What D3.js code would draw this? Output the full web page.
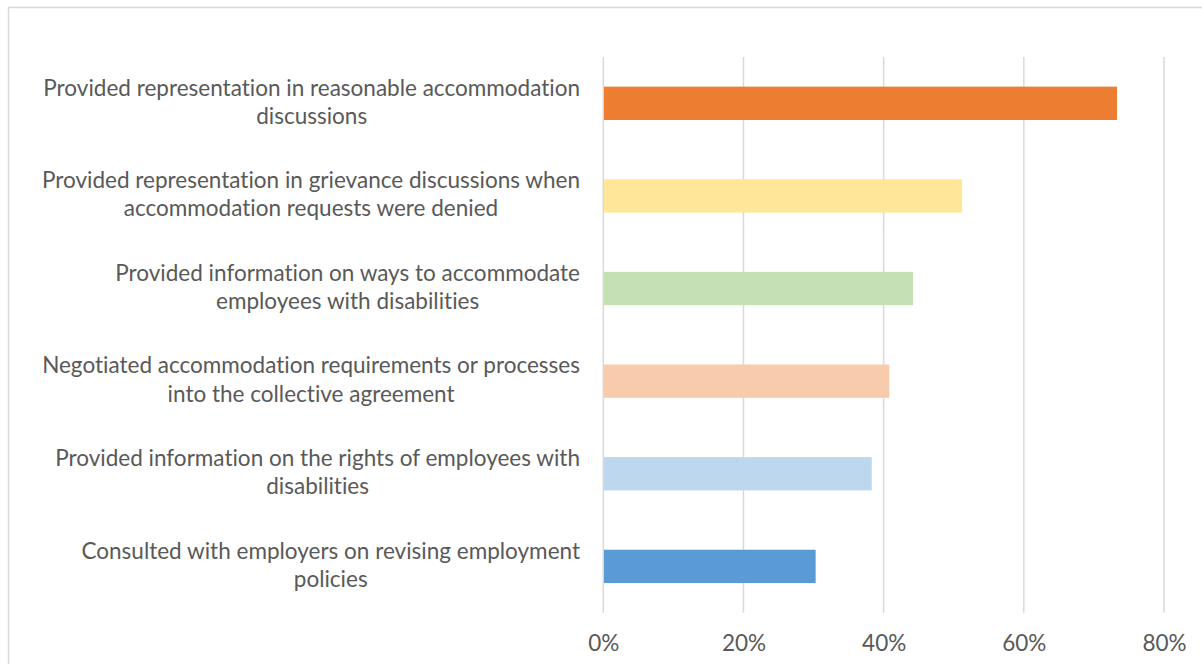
<!DOCTYPE html>
<html>
<head>
<meta charset="utf-8">
<script src="https://cdn.jsdelivr.net/npm/d3@7"></script>
<style>
  html, body { margin: 0; padding: 0; background: #fff; }
  svg { display: block; }
  text { font-variant-ligatures: none; font-feature-settings: "liga" 0, "clig" 0; }
</style>
</head>
<body>
<svg id="chart" width="1202" height="664"></svg>
<script>
// Union actions supporting accommodation of employees with disabilities
const categories = [
  "Provided representation in reasonable accommodation|discussions",
  "Provided representation in grievance discussions when|accommodation requests were denied",
  "Provided information on ways to accommodate|employees with disabilities",
  "Negotiated accommodation requirements or processes|into the collective agreement",
  "Provided information on the rights of employees with|disabilities",
  "Consulted with employers on revising employment|policies"
];
const values = [73.3, 51.2, 44.2, 40.8, 38.3, 30.3];
const barColors = ["#ED7D31", "#FFE699", "#C5E0B4", "#F8CBAD", "#BDD7EE", "#5B9BD5"];
const tickValues = [0, 20, 40, 60, 80];
const tickLabels = ["0%", "20%", "40%", "60%", "80%"];

const fontFamily = "Lato, 'Open Sans', sans-serif";
const textColor = "#595959";
const gridColor = "#D9D9D9";

const svg = d3.select("#chart");

// outer chart frame
svg.append("rect")
  .attr("x", 8.5).attr("y", 7.5)
  .attr("width", 1220).attr("height", 680)
  .attr("fill", "none")
  .attr("stroke", gridColor)
  .attr("stroke-width", 1.5);

const plot = { left: 603.3, right: 1164, top: 57, bottom: 612.7 };

const x = d3.scaleLinear().domain([0, 80]).range([plot.left, plot.right]);
const y = d3.scaleBand()
  .domain(categories)
  .range([plot.top, plot.bottom])
  .paddingInner(0.64)
  .paddingOuter(0.32);

// vertical gridlines
svg.append("g")
  .selectAll("line")
  .data(tickValues)
  .join("line")
  .attr("x1", d => x(d)).attr("x2", d => x(d))
  .attr("y1", plot.top).attr("y2", plot.bottom)
  .attr("stroke", gridColor)
  .attr("stroke-width", 1.5);

// bars
svg.append("g")
  .selectAll("rect")
  .data(categories)
  .join("rect")
  .attr("x", x(0) + 0.7)
  .attr("y", d => y(d))
  .attr("width", (d, i) => x(values[i]) - x(0) - 0.7)
  .attr("height", y.bandwidth())
  .attr("fill", (d, i) => barColors[i]);

// font size chosen so the longest category line spans the label column
const probe = svg.append("text")
  .attr("font-family", fontFamily)
  .attr("font-size", 20)
  .text(categories[0].split("|")[0]);
const probeW = probe.node().getComputedTextLength();
probe.remove();
const fontSize = Math.min(24, Math.max(16, 20 * 537 / probeW));

// category labels: two wrapped lines, centred on the widest line, right edge at 580
const labelRight = 580;
const labels = svg.append("g")
  .attr("font-family", fontFamily)
  .attr("font-size", fontSize)
  .attr("fill", textColor);

categories.forEach(cat => {
  const lines = cat.split("|");
  const cy = y(cat) + y.bandwidth() / 2;
  const widths = lines.map(l => {
    const t = labels.append("text").text(l);
    const w = t.node().getComputedTextLength();
    t.remove();
    return w;
  });
  const maxW = d3.max(widths);
  const cx = labelRight - maxW / 2;
  const baselines = [cy - 7.8, cy + 20.5];
  lines.forEach((l, j) => {
    labels.append("text")
      .attr("x", cx)
      .attr("y", baselines[j])
      .attr("text-anchor", "middle")
      .text(l);
  });
});

// x axis tick labels
const xAxis = d3.axisBottom(x)
  .tickValues(tickValues)
  .tickFormat((d, i) => tickLabels[i])
  .tickSize(0)
  .tickPadding(0);

const axisG = svg.append("g")
  .attr("transform", `translate(0, ${plot.bottom})`)
  .call(xAxis);
axisG.select(".domain").remove();
axisG.selectAll("text")
  .attr("font-family", fontFamily)
  .attr("font-size", fontSize)
  .attr("fill", textColor)
  .attr("dy", null)
  .attr("y", 651.5 - plot.bottom);
</script>
</body>
</html>
